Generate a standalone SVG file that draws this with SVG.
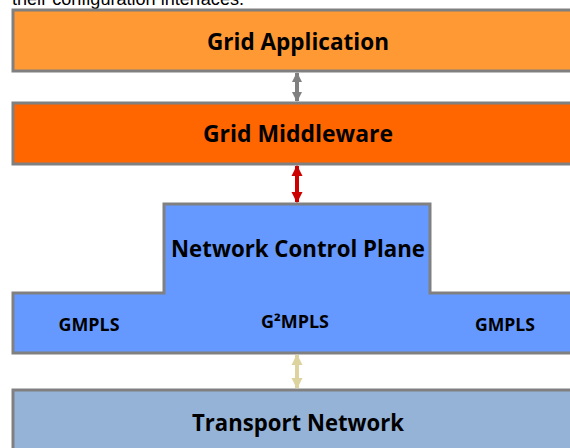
<svg xmlns="http://www.w3.org/2000/svg" width="570" height="448" viewBox="0 0 570 448">
<defs>
<style>
.box{stroke:#808080;stroke-width:3}
.t{font-family:"Open Sans","Liberation Sans",sans-serif;font-weight:bold;fill:#000;text-anchor:middle}
.big{font-size:23px}
.small{font-size:17px}
.cap{font-family:"Liberation Sans",Arial,sans-serif;font-size:18px;fill:#000}
</style>
<marker id="hg" viewBox="0 0 10 10" refX="9" refY="5" markerWidth="10" markerHeight="11" markerUnits="userSpaceOnUse" orient="auto-start-reverse"><path d="M0,0 L10,5 L0,10 Z" fill="#808080"/></marker>
<marker id="hr" viewBox="0 0 10 10" refX="9" refY="5" markerWidth="11" markerHeight="12" markerUnits="userSpaceOnUse" orient="auto-start-reverse"><path d="M0,0 L10,5 L0,10 Z" fill="#CC0000"/></marker>
<marker id="hb" viewBox="0 0 10 10" refX="9" refY="5" markerWidth="11" markerHeight="12" markerUnits="userSpaceOnUse" orient="auto-start-reverse"><path d="M0,0 L10,5 L0,10 Z" fill="#DDD39E"/></marker>
</defs>
<rect width="570" height="448" fill="#fff"/>
<text class="cap" x="12" y="5" textLength="232" lengthAdjust="spacingAndGlyphs">their configuration interfaces.</text>

<g id="grid-application">
<rect class="box" x="13" y="10" width="570" height="61" fill="#FF9933"/>
<text class="t big" x="298" y="50" textLength="182" lengthAdjust="spacingAndGlyphs">Grid Application</text>
</g>

<g id="grid-middleware">
<rect class="box" x="13" y="103" width="570" height="61" fill="#FF6600"/>
<text class="t big" x="298" y="142" textLength="190" lengthAdjust="spacingAndGlyphs">Grid Middleware</text>
</g>

<g id="network-control-plane">
<path class="box" d="M13,293 H164 V204 H430 V293 H580 V353 H13 Z" fill="#6699FF"/>
<text class="t big" x="298" y="257" textLength="254" lengthAdjust="spacingAndGlyphs">Network Control Plane</text>
</g>

<g id="gmpls-left">
<text class="t small" x="89" y="331" textLength="61" lengthAdjust="spacingAndGlyphs">GMPLS</text>
</g>
<g id="g2mpls">
<text class="t small" x="295" y="328" textLength="68" lengthAdjust="spacingAndGlyphs">G²MPLS</text>
</g>
<g id="gmpls-right">
<text class="t small" x="505" y="331" textLength="60" lengthAdjust="spacingAndGlyphs">GMPLS</text>
</g>

<g id="transport-network">
<rect class="box" x="13" y="390" width="570" height="70" fill="#95B3D7"/>
<text class="t big" x="298" y="431" textLength="212" lengthAdjust="spacingAndGlyphs">Transport Network</text>
</g>

<g id="connectors">
<line x1="297" y1="73" x2="297" y2="101" stroke="#808080" stroke-width="4" marker-start="url(#hg)" marker-end="url(#hg)"/>
<line x1="297" y1="166" x2="297" y2="202" stroke="#CC0000" stroke-width="4" marker-start="url(#hr)" marker-end="url(#hr)"/>
<line x1="297" y1="355" x2="297" y2="388" stroke="#DDD39E" stroke-width="4" marker-start="url(#hb)" marker-end="url(#hb)"/>
</g>
</svg>
